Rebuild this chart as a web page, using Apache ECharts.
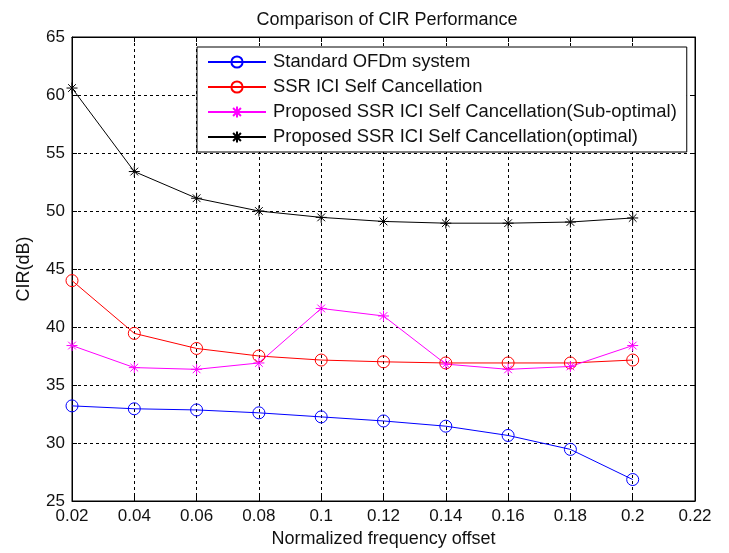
<!DOCTYPE html>
<html>
<head>
<meta charset="utf-8">
<script src="https://cdn.jsdelivr.net/npm/echarts@6/dist/echarts.min.js"></script>
<style>
  html, body { margin: 0; padding: 0; background: #fff; }
  #chart { width: 729px; height: 553px; }
</style>
</head>
<body>
<div id="chart"></div>
<script>
// frequency offsets (x)
const offsets = [0.02, 0.04, 0.06, 0.08, 0.1, 0.12, 0.14, 0.16, 0.18, 0.2]
// CIR values (dB)
const standardOfdm = [33.2, 32.95, 32.85, 32.6, 32.25, 31.9, 31.45, 30.65, 29.45, 26.85]
const ssrIci = [44.0, 39.45, 38.15, 37.5, 37.15, 37.0, 36.9, 36.9, 36.9, 37.15]
const proposedSub = [38.4, 36.5, 36.35, 36.9, 41.6, 40.95, 36.8, 36.35, 36.6, 38.4]
const proposedOpt = [60.6, 53.4, 51.1, 50.0, 49.45, 49.1, 48.95, 48.95, 49.05, 49.4]
const seriesNames = [
  'Standard OFDm system',
  'SSR ICI Self Cancellation',
  'Proposed SSR ICI Self Cancellation(Sub-optimal)',
  'Proposed SSR ICI Self Cancellation(optimal)'
]

const toPairs = arr => arr.map((v, i) => [offsets[i], v])
const star = 'path://M0,-1L0,1M-1,0L1,0M-0.7,-0.7L0.7,0.7M-0.7,0.7L0.7,-0.7'
const font = 'Liberation Sans, Arial, sans-serif'

function makeSeries (name, data, color, marker) {
  return {
    name: name,
    type: 'line',
    data: toPairs(data),
    symbol: marker === 'o' ? 'circle' : star,
    symbolSize: marker === 'o' ? 12 : 11,
    showAllSymbol: true,
    lineStyle: { color: color, width: 1 },
    itemStyle: { color: 'none', borderColor: color, borderWidth: 1 },
    emphasis: { disabled: true },
    animation: false
  }
}

const myChart = echarts.init(document.getElementById('chart'))
const option = {
  backgroundColor: '#fff',
  title: {
    text: 'Comparison of CIR Performance',
    left: 382,
    top: 6,
    textAlign: 'center',
    textStyle: { fontFamily: font, fontSize: 18, fontWeight: 'normal', color: '#111' }
  },
  legend: {
    data: seriesNames,
    orient: 'vertical',
    left: 197,
    top: 47,
    padding: [6, 10, 6, 10],
    itemWidth: 58,
    itemHeight: 14,
    itemGap: 7,
    backgroundColor: '#fff',
    borderColor: '#000',
    borderWidth: 1,
    textStyle: { fontFamily: font, fontSize: 18.4, color: '#111', padding: [0, 0, 0, 2] }
  },
  grid: {
    left: 72,
    right: 34,
    top: 37,
    bottom: 52,
    show: true,
    borderColor: '#000',
    borderWidth: 1
  },
  xAxis: [
    {
      type: 'value',
      min: 0.02,
      max: 0.22,
      interval: 0.02,
      name: 'Normalized frequency offset',
      nameLocation: 'middle',
      nameGap: 29,
      nameTextStyle: { fontFamily: font, fontSize: 18, color: '#111' },
      axisLine: { show: true, lineStyle: { color: '#000' } },
      axisTick: { inside: true, length: 5, lineStyle: { color: '#000' } },
      axisLabel: {
        fontFamily: font, fontSize: 17, color: '#111', margin: 7,
        formatter: v => String(parseFloat(v.toFixed(2)))
      },
      splitLine: { show: true, lineStyle: { color: '#000', type: [3, 3] } }
    },
    {
      type: 'value',
      position: 'top',
      min: 0.02,
      max: 0.22,
      interval: 0.02,
      axisLine: { show: true, lineStyle: { color: '#000' } },
      axisTick: { inside: true, length: 5, lineStyle: { color: '#000' } },
      axisLabel: { show: false },
      splitLine: { show: false }
    }
  ],
  yAxis: [
    {
      type: 'value',
      min: 25,
      max: 65,
      interval: 5,
      name: 'CIR(dB)',
      nameLocation: 'middle',
      nameGap: 39,
      nameTextStyle: { fontFamily: font, fontSize: 18, color: '#111' },
      axisLine: { show: true, lineStyle: { color: '#000' } },
      axisTick: { inside: true, length: 5, lineStyle: { color: '#000' } },
      axisLabel: { fontFamily: font, fontSize: 17, color: '#111', margin: 7 },
      splitLine: { show: true, lineStyle: { color: '#000', type: [3, 3] } }
    },
    {
      type: 'value',
      position: 'right',
      min: 25,
      max: 65,
      interval: 5,
      axisLine: { show: true, lineStyle: { color: '#000' } },
      axisTick: { inside: true, length: 5, lineStyle: { color: '#000' } },
      axisLabel: { show: false },
      splitLine: { show: false }
    }
  ],
  series: [
    makeSeries(seriesNames[0], standardOfdm, '#0000ff', 'o'),
    makeSeries(seriesNames[1], ssrIci, '#ff0000', 'o'),
    makeSeries(seriesNames[2], proposedSub, '#ff00ff', '*'),
    makeSeries(seriesNames[3], proposedOpt, '#000000', '*')
  ]
}
myChart.setOption(option)
window.addEventListener('resize', function () {
  myChart.resize()
})
</script>
</body>
</html>
